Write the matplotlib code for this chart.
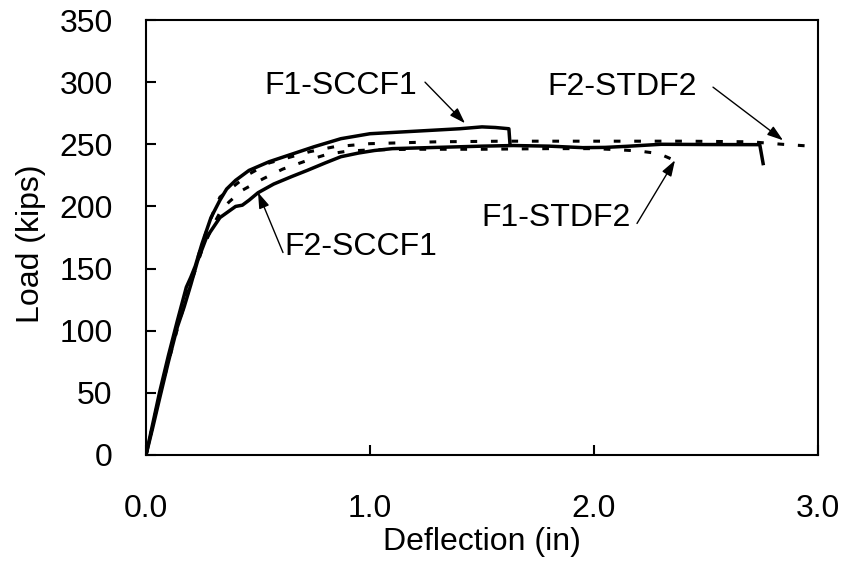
import matplotlib
matplotlib.use("Agg")
import matplotlib.pyplot as plt

plt.rcParams['font.family'] = ['Liberation Sans', 'DejaVu Sans']

# F1-SCCF1 (solid, upper)
f1_sccf1_d = [0, 0.03, 0.06, 0.10, 0.14, 0.18, 0.20, 0.22, 0.25, 0.29, 0.33, 0.36, 0.40, 0.46, 0.55, 0.65, 0.75, 0.87, 1.0, 1.1, 1.2, 1.3, 1.4, 1.5, 1.56, 1.62, 1.625]
f1_sccf1_L = [0, 25, 50, 80, 108, 135, 143, 152, 170, 191, 205, 214, 221, 229, 236, 242, 248, 254.5, 258.5, 259.5, 260.5, 261.5, 262.5, 264, 263.5, 262.5, 250]

# F2-SCCF1 (solid, lower)
f2_sccf1_d = [0, 0.03, 0.06, 0.10, 0.14, 0.17, 0.20, 0.23, 0.27, 0.33, 0.40, 0.43, 0.46, 0.50, 0.57, 0.65, 0.72, 0.80, 0.87, 0.95, 1.02, 1.1, 1.3, 1.5, 1.64, 1.8, 1.95, 2.05, 2.15, 2.3, 2.5, 2.74, 2.755]
f2_sccf1_L = [0, 22, 45, 75, 103, 119, 137, 156, 175, 191, 200, 201, 205, 211, 218, 224, 229, 235, 240, 243, 245, 246.5, 247.5, 248.5, 249, 248.5, 247.3, 247.5, 248.4, 250, 249.8, 249.7, 234.5]

# F1-STDF2 (dotted, lower)
f1_stdf2_d = [0, 0.06, 0.10, 0.15, 0.20, 0.25, 0.30, 0.33, 0.37, 0.43, 0.52, 0.61, 0.72, 0.81, 0.90, 1.0, 1.2, 1.5, 1.8, 2.0, 2.1, 2.2, 2.29, 2.36]
f1_stdf2_L = [0, 47, 75, 108, 138, 165, 185, 195, 203.5, 213, 222, 230, 237, 242, 244.5, 245.5, 246, 246, 246.5, 246.5, 245.7, 244.6, 242.5, 237]

# F2-STDF2 (dotted, upper)
f2_stdf2_d = [0, 0.06, 0.10, 0.15, 0.20, 0.25, 0.30, 0.33, 0.46, 0.55, 0.73, 0.84, 1.0, 1.3, 1.6, 2.0, 2.4, 2.7, 2.84, 2.96]
f2_stdf2_L = [0, 48, 78, 113, 140, 170, 195, 207.5, 226, 235, 244, 248, 250.5, 252, 252.5, 252.5, 252.5, 252, 250, 248.6]

x_ticks = [0.0, 1.0, 2.0, 3.0]
x_tick_labels = ["0.0", "1.0", "2.0", "3.0"]
y_ticks = [0, 50, 100, 150, 200, 250, 300, 350]

FS = 23

fig = plt.figure(figsize=(8.47, 5.62), dpi=100)
ax = fig.add_axes([146/847, 1-455/562, (818-146)/847, (455-20)/562])

ax.plot(f1_sccf1_d, f1_sccf1_L, color='black', lw=2.5)
ax.plot(f2_sccf1_d, f2_sccf1_L, color='black', lw=2.5)
ax.plot(f1_stdf2_d, f1_stdf2_L, color='black', lw=2.2, linestyle=(0, (2.2, 4.5)))
ax.plot(f2_stdf2_d, f2_stdf2_L, color='black', lw=2.2, linestyle=(0, (2.2, 4.5)))

ax.set_xlim(0, 3)
ax.set_ylim(0, 350)
ax.set_xticks(x_ticks)
ax.set_xticklabels(x_tick_labels)
ax.set_yticks(y_ticks)
for s in ax.spines.values():
    s.set_linewidth(1.5)
ax.tick_params(direction='in', length=7, width=1.5, labelsize=FS)
ax.tick_params(axis='y', pad=24)
ax.tick_params(axis='x', pad=28)
ax.set_xlabel('Deflection (in)', fontsize=FS, va='top')
ax.xaxis.set_label_coords(0.5, (455 - 527) / 435)
ax.set_ylabel('Load (kips)', fontsize=FS, va='center')
ax.yaxis.set_label_coords((31 - 146) / 672, (454 - 243) / 435)

def px2data(px, py):
    return ((px - 146) / 224.0, (454 - py) / 1.24)

arrow = dict(arrowstyle='-|>,head_length=0.6,head_width=0.2', color='black', lw=1.0,
             mutation_scale=16, shrinkA=0, shrinkB=0)
labels = [
    ("F1-SCCF1", (341, 86), (425, 82), (465, 123)),
    ("F2-STDF2", (622, 87), (713, 87), (783, 140)),
    ("F1-STDF2", (556, 218), (637, 223), (675, 160)),
    ("F2-SCCF1", (361, 246), (283, 252), (258, 192)),
]
for txt, tpos, a0, a1 in labels:
    ax.text(*px2data(*tpos), txt, fontsize=FS, ha='center', va='center')
    ax.annotate('', xy=px2data(*a1), xytext=px2data(*a0), arrowprops=arrow)

fig.savefig('out.png', dpi=100)
